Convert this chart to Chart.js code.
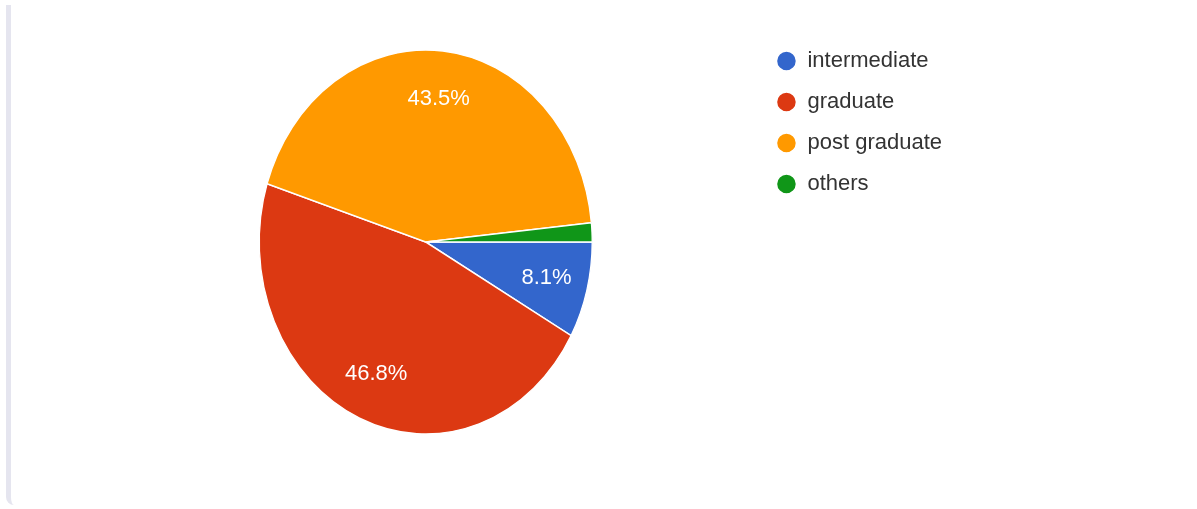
<!DOCTYPE html>
<html>
<head>
<meta charset="utf-8">
<script src="https://cdn.jsdelivr.net/npm/chart.js@4.4.1/dist/chart.umd.min.js"></script>
<style>
  html, body { margin: 0; padding: 0; background: #fff; }
  .card {
    position: absolute; left: 6px; top: 5px; width: 1180px; height: 500px;
    border-left: 5px solid #e5e5ef; border-bottom-left-radius: 8px;
  }
  .wrap { position: absolute; left: 0; top: 0; width: 1197px; height: 509px; }
</style>
</head>
<body>
<div class="card"></div>
<div class="wrap"><canvas id="pie"></canvas></div>
<script>
var categories = ["intermediate", "graduate", "post graduate", "others"];
var shares = [8.1, 46.8, 43.5, 1.6];
var colors = ["#3366cc", "#dc3912", "#ff9900", "#109618"];

// the pie is drawn a bit narrower than tall
var SQUISH = 0.867;

var ellipsePie = {
    id: "ellipsePie",
    beforeDatasetsDraw: function (chart) {
        var ctx = chart.ctx;
        var cx = chart.getDatasetMeta(0).data[0].x;
        ctx.save();
        ctx.translate(cx, 0);
        ctx.scale(SQUISH, 1);
        ctx.translate(-cx, 0);
    },
    afterDatasetsDraw: function (chart) {
        var ctx = chart.ctx;
        ctx.restore();
        // percentage labels inside the bigger slices
        ctx.save();
        ctx.fillStyle = "#ffffff";
        ctx.font = "22px 'Liberation Sans', Arial, sans-serif";
        ctx.textAlign = "center";
        ctx.textBaseline = "middle";
        chart.getDatasetMeta(0).data.forEach(function (arc, i) {
            var v = shares[i];
            if (v < 5) return;
            var mid = (arc.startAngle + arc.endAngle) / 2;
            var r = arc.outerRadius * 0.75;
            ctx.fillText(v.toFixed(1) + "%", arc.x + Math.cos(mid) * r * SQUISH, arc.y + Math.sin(mid) * r);
        });
        ctx.restore();
    }
};

new Chart(document.getElementById("pie"), {
    type: "pie",
    data: {
        labels: categories,
        datasets: [{
            data: shares,
            backgroundColor: colors,
            borderColor: "#ffffff",
            borderWidth: 1.5
        }]
    },
    options: {
        responsive: true,
        maintainAspectRatio: false,
        animation: false,
        rotation: 90,
        radius: 192,
        layout: { padding: { left: 94, right: 245, top: 31, bottom: 56 } },
        plugins: {
            tooltip: { enabled: false },
            legend: {
                position: "right",
                align: "start",
                labels: {
                    usePointStyle: true,
                    pointStyle: "circle",
                    boxHeight: 14,
                    pointStyleWidth: 20,
                    padding: 19,
                    color: "#333333",
                    font: { family: "'Liberation Sans', Arial, sans-serif", size: 22 }
                }
            }
        }
    },
    plugins: [ellipsePie]
});
</script>
</body>
</html>
